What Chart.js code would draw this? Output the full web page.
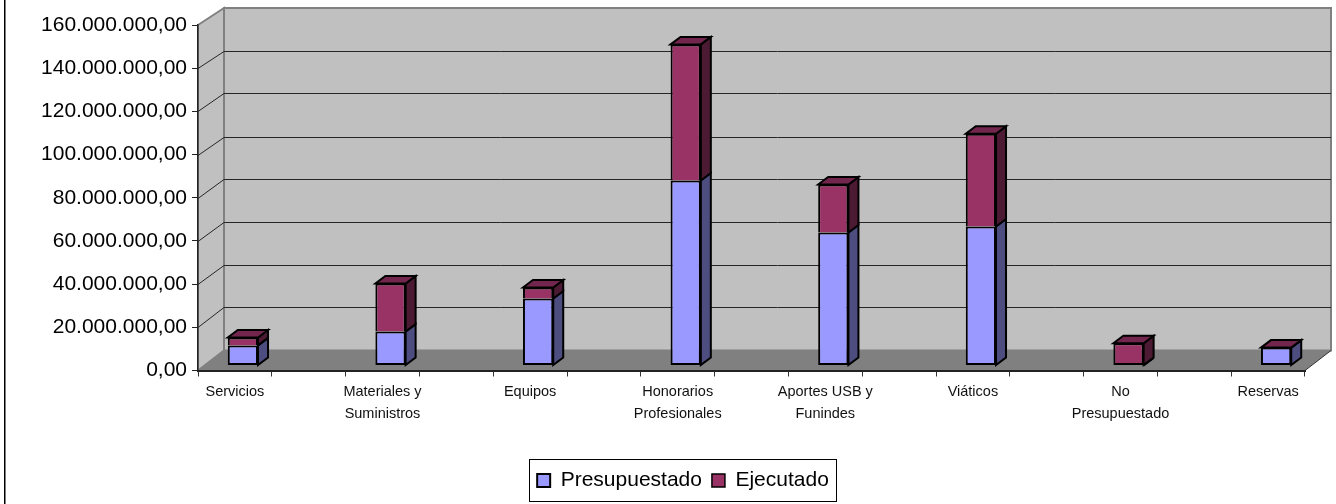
<!DOCTYPE html>
<html>
<head>
<meta charset="utf-8">
<title>Presupuestado vs Ejecutado</title>
<script src="https://cdn.jsdelivr.net/npm/chart.js@4"></script>
<style>
  html, body { margin: 0; background: #fff; }
  canvas { display: block; }
</style>
</head>
<body>
<canvas id="chart" width="1336" height="504"></canvas>
<script>
// every second category is empty, that is how the original sheet spaces the bars
const categories = [
  "Servicios", "", ["Materiales y", "Suministros"], "", "Equipos", "",
  ["Honorarios", "Profesionales"], "", ["Aportes USB y", "Funindes"], "",
  "Viáticos", "", ["No", "Presupuestado"], "", "Reservas"
];
const presupuestado = [9300000, null, 15700000, null, 31000000, null, 85700000, null, 61600000, null, 64400000, null, 0, null, 8300000];
const ejecutado = [3700000, null, 22300000, null, 5100000, null, 63000000, null, 22200000, null, 42900000, null, 10300000, null, 0];
const yMax = 160000000;
const yStep = 20000000;

// fake 3D: depth of the room and of one bar
const wallDx = 26, barDx = 10, barDy = 7.5;
const shiftX = 8, shiftY = 5;
const legendShift = 28.5;
const faceColors = [
  { side: "#4D4D80", top: "#73738C" },
  { side: "#4D1A33", top: "#73264D" }
];

function wallDy(y, area) {
  // the room is slightly narrower at the top than at the floor
  return 20 - 3 * (area.bottom - y) / (area.bottom - area.top);
}

function poly(ctx, pts, fill, stroke, lw) {
  ctx.beginPath();
  pts.forEach((p, i) => i ? ctx.lineTo(p[0], p[1]) : ctx.moveTo(p[0], p[1]));
  ctx.closePath();
  if (fill) { ctx.fillStyle = fill; ctx.fill(); }
  if (stroke) { ctx.strokeStyle = stroke; ctx.lineWidth = lw; ctx.stroke(); }
}

// the line between two segments comes from the lower one, otherwise it is doubled
function ejecutadoBorder(c) {
  if (c.dataIndex === undefined || presupuestado[c.dataIndex] === 0) return 2;
  return { top: 2, left: 2, right: 2, bottom: 0 };
}

const room3d = {
  id: "room3d",
  afterLayout(chart) {
    // legend sits right of the centre of the plot
    chart.legend.left += legendShift;
    chart.legend.right += legendShift;
  },
  beforeDraw(chart) {
    const { ctx, chartArea: a, scales } = chart;
    const topDy = wallDy(a.top, a), botDy = wallDy(a.bottom, a);
    const bl = a.left + wallDx, br = a.right + wallDx;
    ctx.save();
    // outer frame, only the left edge is inside the picture
    ctx.fillStyle = "#000";
    ctx.fillRect(4, 0, 1.5, 504);
    // back wall and left wall
    poly(ctx, [[bl, a.top - topDy], [br, a.top - topDy], [br, a.bottom - botDy], [bl, a.bottom - botDy]], "#C0C0C0", "#808080", 2);
    poly(ctx, [[a.left, a.top], [bl, a.top - topDy], [bl, a.bottom - botDy], [a.left, a.bottom]], "#C0C0C0", "#808080", 2);
    // grid lines run along the left wall and across the back wall
    scales.y.ticks.forEach((t, i) => {
      if (t.value === 0 || t.value === yMax) return;
      const y = Math.round(scales.y.getPixelForTick(i));
      const by = Math.round(y - wallDy(y, a)) + 0.5;
      ctx.beginPath();
      ctx.moveTo(a.left, y + 0.5);
      ctx.lineTo(bl, by);
      ctx.lineTo(br, by);
      ctx.strokeStyle = "#262626";
      ctx.lineWidth = 1;
      ctx.stroke();
    });
    // floor
    poly(ctx, [[a.left, a.bottom], [bl, a.bottom - botDy], [br, a.bottom - botDy], [a.right, a.bottom]], "#808080");
    ctx.beginPath();
    ctx.moveTo(a.right, a.bottom);
    ctx.lineTo(br, a.bottom - botDy);
    ctx.strokeStyle = "#333";
    ctx.lineWidth = 1;
    ctx.stroke();
    ctx.restore();
  },
  beforeDatasetsDraw(chart) {
    const ctx = chart.ctx;
    // everything the datasets draw moves into the middle of the room depth
    ctx.save();
    ctx.translate(shiftX, -shiftY);
    chart.data.datasets.forEach((ds, d) => {
      chart.getDatasetMeta(d).data.forEach((bar, i) => {
        if (ds.data[i] === null) return;
        const r = bar.x + bar.width / 2, l = bar.x - bar.width / 2;
        poly(ctx, [[r, bar.y], [r + barDx, bar.y - barDy], [r + barDx, bar.base - barDy], [r, bar.base]], faceColors[d].side, "#000", 2);
        if (d === chart.data.datasets.length - 1) {
          poly(ctx, [[l, bar.y], [l + barDx, bar.y - barDy], [r + barDx, bar.y - barDy], [r, bar.y]], faceColors[d].top, "#000", 2);
        }
      });
    });
  },
  afterDatasetsDraw(chart) {
    chart.ctx.restore();
  },
  afterDraw(chart) {
    // border round the legend
    const boxes = chart.legend.legendHitBoxes;
    if (!boxes.length) return;
    const first = boxes[0], last = boxes[boxes.length - 1];
    const ctx = chart.ctx;
    ctx.save();
    ctx.strokeStyle = "#000";
    ctx.lineWidth = 1;
    ctx.strokeRect(Math.round(first.left) - 7.5, Math.round(first.top) - 10.5,
      Math.round(last.left + last.width - first.left) + 15, first.height + 21);
    ctx.restore();
  }
};

Chart.defaults.font.family = '"Liberation Sans", Arial, sans-serif';
Chart.defaults.color = "#000";

new Chart(document.getElementById("chart"), {
  type: "bar",
  data: {
    labels: categories,
    datasets: [
      { label: "Presupuestado", data: presupuestado, backgroundColor: "#9999FF", borderColor: "#000", borderWidth: 2, borderSkipped: false, clip: false },
      { label: "Ejecutado", data: ejecutado, backgroundColor: "#993366", borderColor: "#000", borderWidth: ejecutadoBorder, borderSkipped: false, clip: false }
    ]
  },
  options: {
    responsive: false,
    animation: false,
    layout: { padding: { left: 4, right: 31, top: 25, bottom: 3 } },
    datasets: { bar: { categoryPercentage: 1, barPercentage: 0.41 } },
    plugins: {
      tooltip: { enabled: false },
      legend: {
        position: "bottom",
        onClick: null,
        labels: { boxWidth: 13, boxHeight: 13, padding: 10, font: { size: 21 }, color: "#000" }
      }
    },
    scales: {
      x: {
        stacked: true,
        afterFit(scale) { scale.height = 89.5; },
        grid: { offset: true, drawOnChartArea: false, tickLength: 6, tickColor: "#333", tickWidth: 1 },
        border: { color: "#222", width: 2 },
        ticks: { autoSkip: false, maxRotation: 0, minRotation: 0, padding: 5, font: { size: 14.5, lineHeight: 1.5 }, color: "#111" }
      },
      y: {
        stacked: true,
        min: 0,
        max: yMax,
        afterFit(scale) { scale.width = 194; },
        grid: { drawOnChartArea: false, tickLength: 6, tickColor: "#222", tickWidth: 1 },
        border: { color: "#222", width: 1.5 },
        ticks: {
          stepSize: yStep,
          padding: 5,
          font: { size: 21 },
          color: "#000",
          callback: v => v.toLocaleString("de-DE", { minimumFractionDigits: 2, maximumFractionDigits: 2 })
        }
      }
    }
  },
  plugins: [room3d]
});
</script>
</body>
</html>
